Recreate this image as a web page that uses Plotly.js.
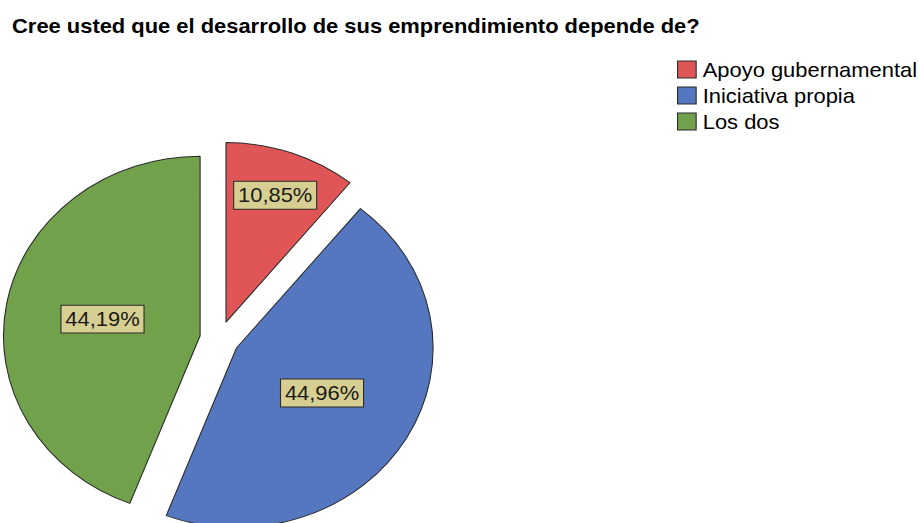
<!DOCTYPE html>
<html>
<head>
<meta charset="utf-8">
<script src="https://cdn.plot.ly/plotly-3.0.1.min.js"></script>
<style>
  html, body { margin: 0; padding: 0; background: #fff; overflow: hidden; }
  #wrap { width: 918px; height: 523px; overflow: hidden; position: relative; }
  #chart { width: 838px; height: 560px; transform: scaleX(1.0955); transform-origin: 0 0; }
</style>
</head>
<body>
<div id="wrap"><div id="chart"></div></div>
<script>
const titleText = "Cree usted que el desarrollo de sus emprendimiento depende de?";
const categories = ["Apoyo gubernamental", "Iniciativa propia", "Los dos"];
const counts = [14, 58, 57];
const sliceColors = ["#e05657", "#5577bf", "#71a14b"];

const W = 838, H = 560;
const FONT = "Liberation Sans, Arial, sans-serif";

const data = [{
  type: "pie",
  labels: categories,
  values: counts,
  sort: false,
  direction: "clockwise",
  rotation: 0,
  pull: [0.1, 0.1, 0.1],
  marker: { colors: sliceColors, line: { color: "#2b2b2b", width: 1 } },
  texttemplate: "%{percent:.2%}",
  textposition: "inside",
  insidetextorientation: "horizontal",
  textfont: { family: FONT, size: 20, color: "#1a1a1a" },
  hoverinfo: "none",
  domain: { x: [2.9 / W, 401.1 / W], y: [1 - 538.1 / H, 1 - 139.9 / H] }
}];

const layout = {
  width: W, height: H,
  margin: { l: 0, r: 0, t: 0, b: 0 },
  paper_bgcolor: "#ffffff",
  separators: ",.",
  title: {
    text: titleText,
    font: { family: FONT, size: 20, color: "#000000", weight: 700 },
    xref: "container", yref: "container",
    x: 11 / W, xanchor: "left",
    y: 1 - 26 / H, yanchor: "middle"
  },
  showlegend: true,
  legend: {
    x: 602 / W, xanchor: "left",
    y: 1 - 50 / H, yanchor: "top",
    font: { family: FONT, size: 20, color: "#000000" },
    bgcolor: "rgba(0,0,0,0)",
    traceorder: "normal"
  }
};

Plotly.newPlot("chart", data, layout, { staticPlot: true, displayModeBar: false }).then(function (gd) {
  const ns = "http://www.w3.org/2000/svg";
  // label boxes behind the percentage texts
  gd.querySelectorAll("g.slicetext").forEach(function (g) {
    const t = g.querySelector("text");
    if (!t) return;
    const bb = t.getBBox();
    const padX = 4, padY = 4;
    const r = document.createElementNS(ns, "rect");
    r.setAttribute("x", bb.x - padX);
    r.setAttribute("y", bb.y - padY + 1);
    r.setAttribute("width", bb.width + 2 * padX);
    r.setAttribute("height", bb.height + 2 * padY - 2);
    r.setAttribute("fill", "#d6cf91");
    r.setAttribute("stroke", "#2b2b2b");
    r.setAttribute("stroke-width", "1");
    const tr = t.getAttribute("transform");
    if (tr) r.setAttribute("transform", tr);
    g.insertBefore(r, t);
  });
  // legend: tighter rows and larger swatches, as in the SPSS output
  const items = gd.querySelectorAll("g.legend g.traces");
  let y0 = null, x0 = 0;
  items.forEach(function (it, i) {
    const m = /translate\(\s*([-\d.]+)[ ,]+([-\d.]+)\s*\)/.exec(it.getAttribute("transform") || "");
    if (m) {
      if (y0 === null) { y0 = parseFloat(m[2]); x0 = parseFloat(m[1]) + 4.5; }
      it.setAttribute("transform", "translate(" + x0 + "," + (y0 + i * 26) + ")");
    }
    const t = it.querySelector("text.legendtext");
    const tx = t ? parseFloat(t.getAttribute("x")) || 40 : 40;
    it.querySelectorAll("g.legendpoints path").forEach(function (p) {
      p.removeAttribute("transform");
      p.setAttribute("d", "M" + (tx - 23) + ",-8.5H" + (tx - 6) + "V8.5H" + (tx - 23) + "Z");
      p.style.strokeWidth = "1px";
      p.style.stroke = "#2b2b2b";
    });
  });
});
</script>
</body>
</html>
